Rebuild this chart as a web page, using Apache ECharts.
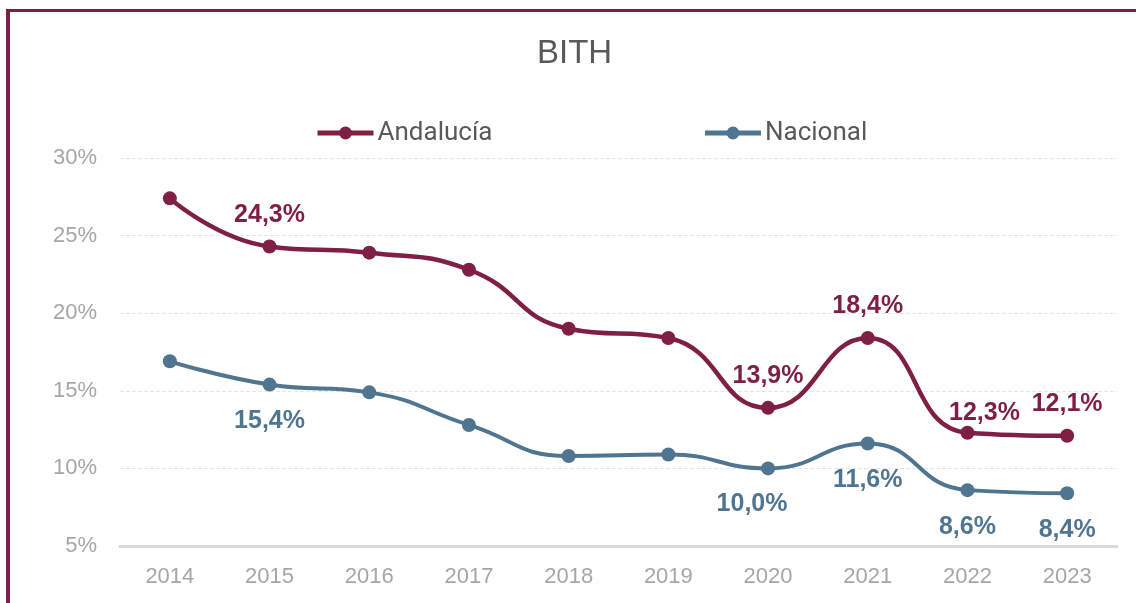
<!DOCTYPE html>
<html><head><meta charset="utf-8">
<script src="https://cdn.jsdelivr.net/npm/echarts@6/dist/echarts.min.js"></script>
<style>
html,body{margin:0;padding:0;background:#fff;overflow:hidden;}
#c{position:absolute;left:0;top:0;width:1136px;height:603px;}
#b{position:absolute;left:6px;top:9px;width:1200px;height:700px;border-left:4px solid #7f1f45;border-top:3px solid #7f1f45;pointer-events:none;}
</style></head>
<body><div id="c"></div><div id="b"></div>
<script>
const years = ['2014','2015','2016','2017','2018','2019','2020','2021','2022','2023'];
const andalucia = [27.4, 24.3, 23.9, 22.8, 19.0, 18.4, 13.9, 18.4, 12.3, 12.1];
const nacional = [16.9, 15.4, 14.9, 12.8, 10.8, 10.9, 10.0, 11.6, 8.6, 8.4];
const labeledYears = ['2015','2020','2021','2022','2023'];
const seriesNames = ['Andalucía','Nacional'];
const titleText = 'BITH';

const fmt = v => v.toFixed(1).replace('.', ',') + '%';
const cA = '#7f1f45', cN = '#4f7590';

function build(values, color, pos, dist, offsets) {
  return values.map((v, i) => {
    const show = labeledYears.includes(years[i]);
    const item = {value: v};
    if (show) {
      item.label = {show: true, position: pos, distance: dist, offset: offsets[years[i]] || [0,0],
        formatter: p => fmt(p.value), color: color, fontSize: 25, fontWeight: 'bold',
        fontFamily: 'Liberation Sans'};
    }
    return item;
  });
}

const chart = echarts.init(document.getElementById('c'));
chart.setOption({
  animation: false,
  title: {text: titleText, left: 532, top: 32,
    textStyle: {fontSize: 33, fontWeight: 'normal', color: '#595959', fontFamily: 'Liberation Sans'}},
  legend: {top: 115, left: 310, itemGap: 210, itemWidth: 56, itemHeight: 16,
    lineStyle: {width: 5},
    textStyle: {fontSize: 26, color: '#595959', fontFamily: 'Roboto', padding: [0,0,0,-1]},
    data: seriesNames},
  grid: {left: 120, right: 19, top: 158, bottom: 57},
  xAxis: {type: 'category', data: years, boundaryGap: true,
    axisLine: {lineStyle: {color: '#d9d9d9', width: 3}},
    axisTick: {show: false},
    axisLabel: {color: '#a6a6a6', fontSize: 22, margin: 20, fontFamily: 'Liberation Sans'}},
  yAxis: {type: 'value', min: 5, max: 30, interval: 5,
    axisLabel: {formatter: v => v + '%', color: '#a6a6a6', fontSize: 22, margin: 23, fontFamily: 'Liberation Sans'},
    splitLine: {lineStyle: {color: '#e6e6e6', type: 'dashed', width: 1}},
    axisLine: {show: false}, axisTick: {show: false}},
  series: [
    {name: seriesNames[0], type: 'line', smooth: 0.5, data: build(andalucia, cA, 'top', 12, {'2022': [17, 12]}),
      symbol: 'circle', symbolSize: 14, lineStyle: {color: cA, width: 4.5}, itemStyle: {color: cA}},
    {name: seriesNames[1], type: 'line', smooth: 0.5, data: build(nacional, cN, 'bottom', 17, {'2020': [-16, -1]}),
      symbol: 'circle', symbolSize: 14, lineStyle: {color: cN, width: 4}, itemStyle: {color: cN}}
  ]
});
</script></body></html>
